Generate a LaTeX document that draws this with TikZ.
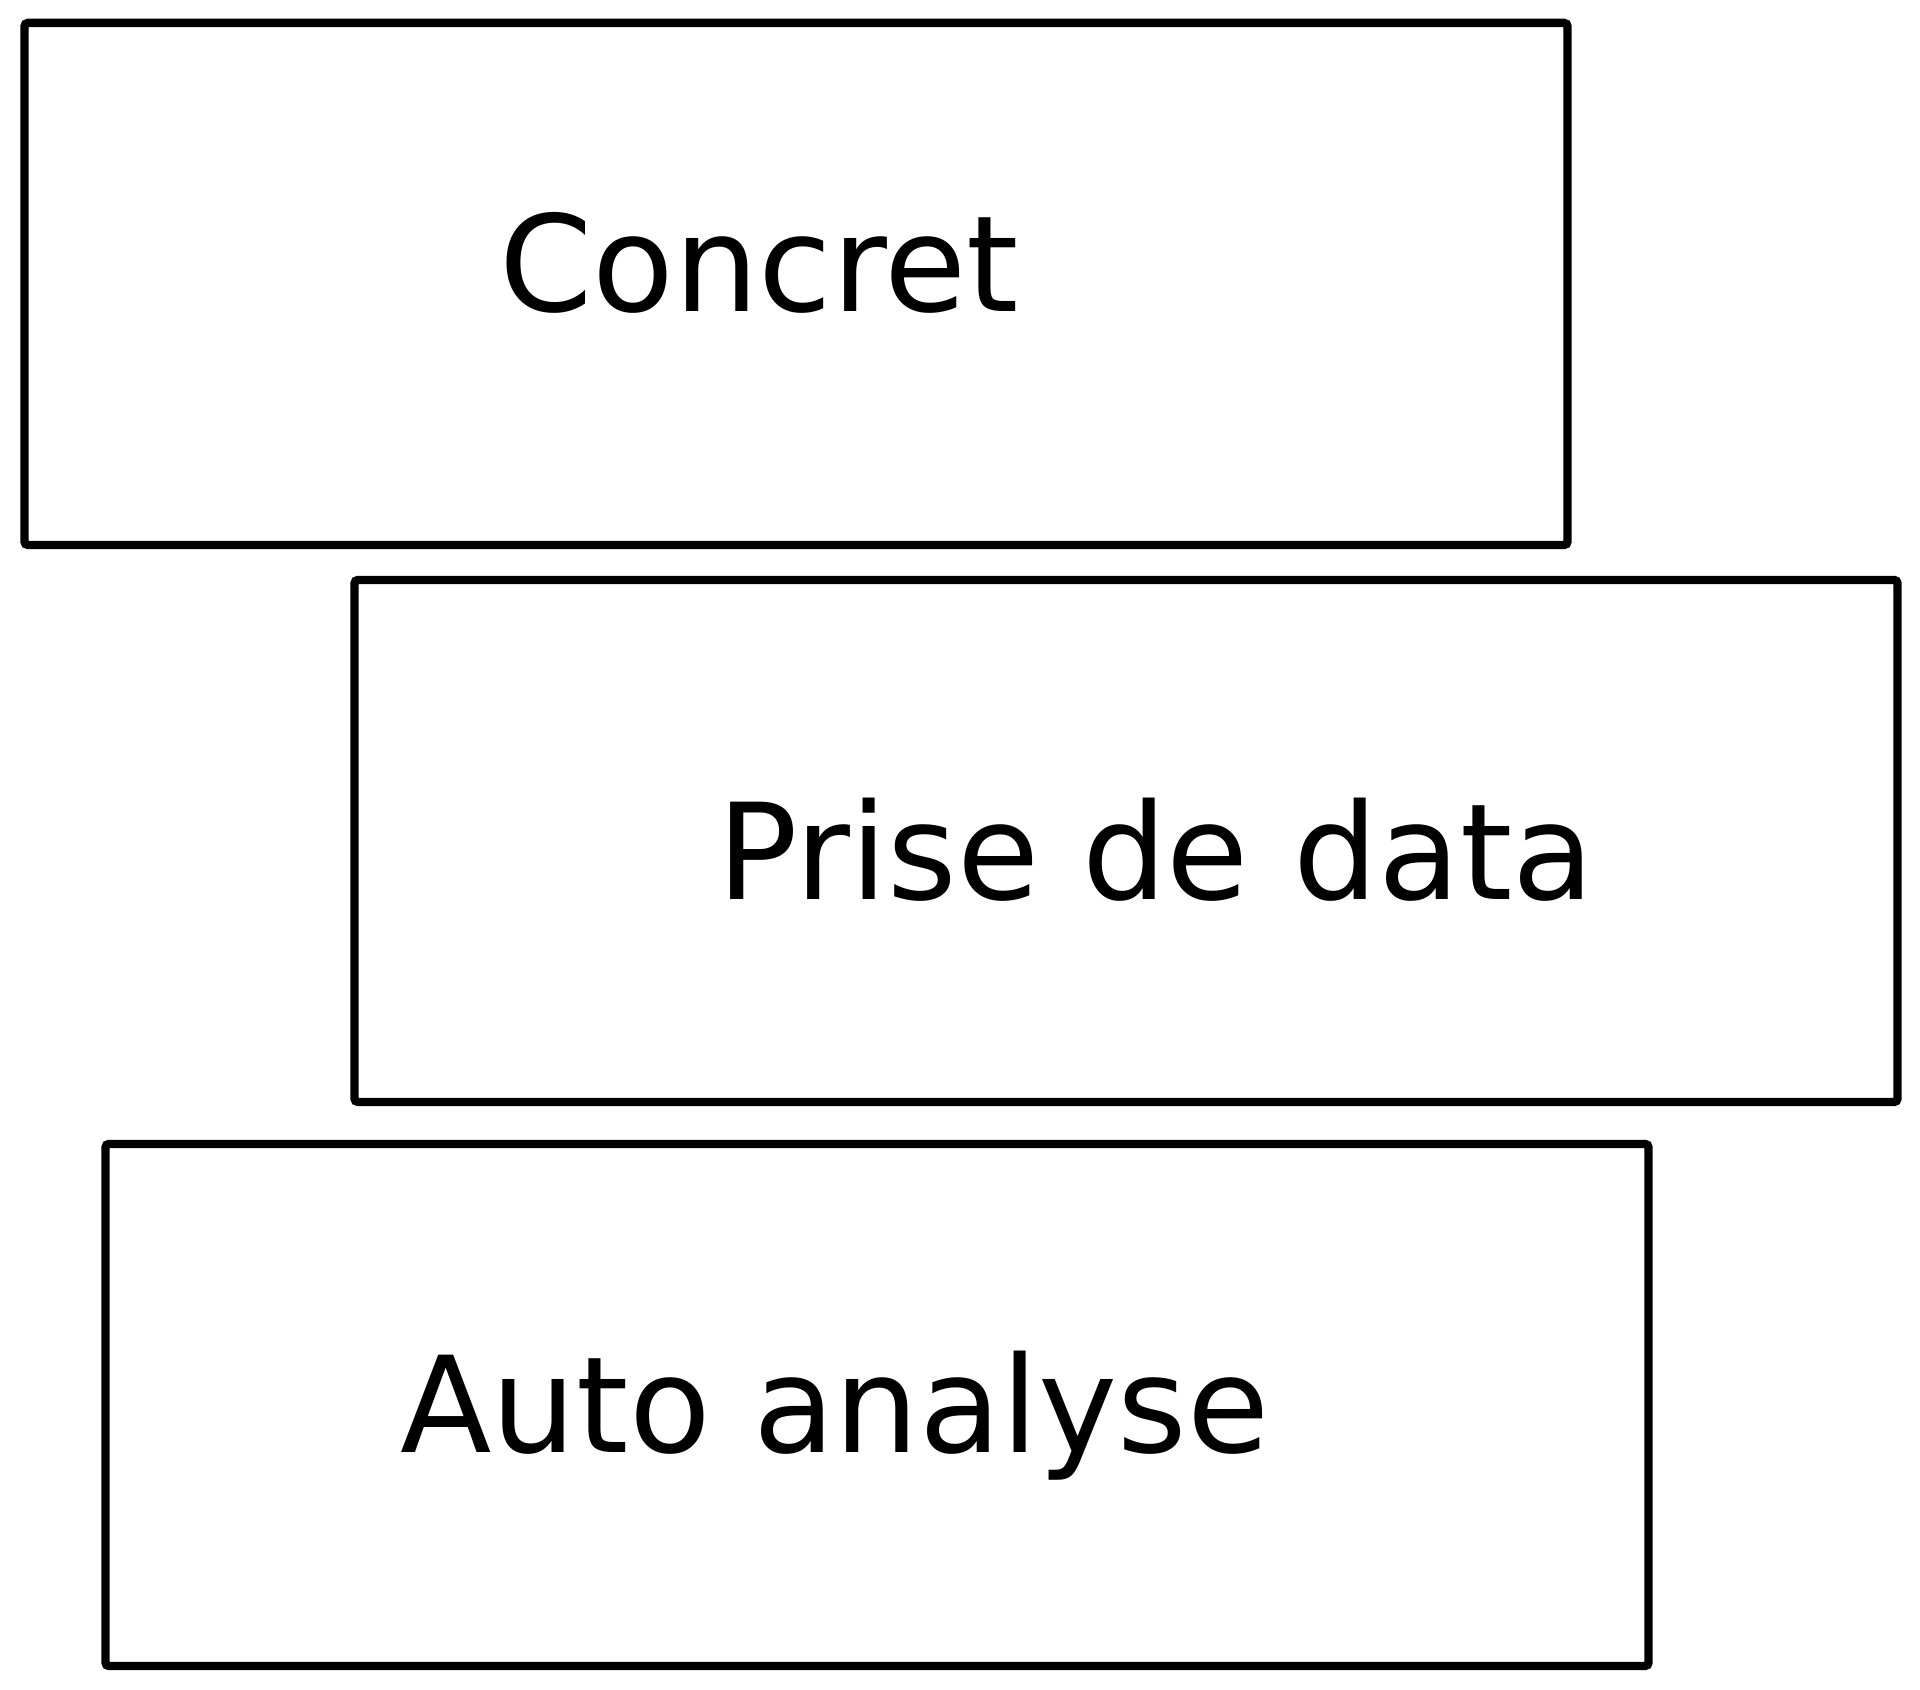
\documentclass[tikz,border=0pt]{standalone}
\usepackage{fontspec}
\setmainfont{DejaVu Sans}
\usetikzlibrary{positioning}
\tikzset{
  panel/.style={draw=black,line width=2.4pt,rounded corners=1pt,
                minimum width=154.3mm,minimum height=52.2mm,inner sep=0pt},
  caption/.style={font=\fontsize{38}{44}\selectfont,anchor=base,inner sep=0pt},
}
\begin{document}
\begin{tikzpicture}[x=1cm,y=1cm]
  \path[use as bounding box] (0,0) rectangle (19.2,16.9);

  \node[panel] (concret) at (7.96,14.06) {};
  \node[panel] (prise) at (11.26,8.49) {};
  \node[panel] (analyse) at (8.77,2.85) {};

  \node[caption] (concretlab) at (7.59,13.78) {Concret};
  \node[caption] (priselab) at (11.56,7.90) {Prise de\,\,data};
  \node[caption] (analyselab) at (8.35,2.37) {Auto analyse};
\end{tikzpicture}
\end{document}
